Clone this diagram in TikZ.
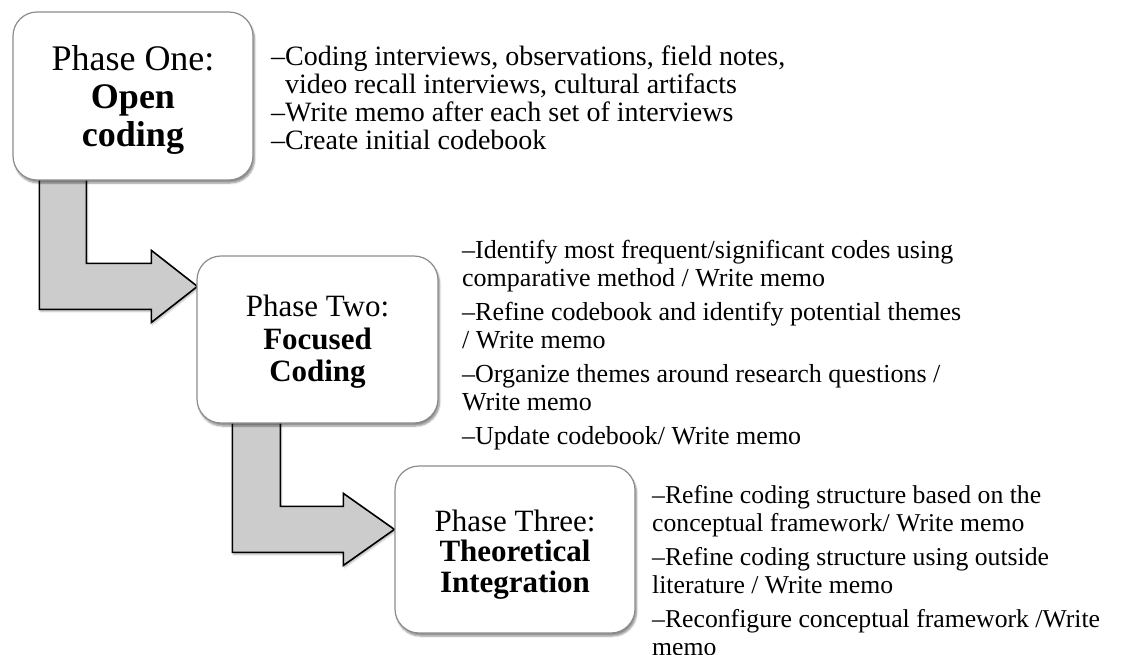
\documentclass[tikz,border=0pt]{standalone}
\usepackage{fontspec}
\setmainfont{Liberation Serif}
\usetikzlibrary{shadows.blur,calc}
\pgfdeclarelayer{background}
\pgfsetlayers{background,main}
\definecolor{boxedge}{HTML}{8C8C8C}
\definecolor{arrowfill}{HTML}{CCCCCC}
\tikzset{
  phasebox/.style={draw=boxedge, line width=1.2pt, fill=white,
    rounded corners=24pt, inner sep=0pt,
    blur shadow={shadow xshift=1.5pt, shadow yshift=-3pt,
      shadow blur steps=6, shadow opacity=45}},
  bentarrow/.style={draw=black, line width=1.6pt, fill=arrowfill,
    line join=miter,
    blur shadow={shadow xshift=1pt, shadow yshift=-2pt,
      shadow blur steps=4, shadow opacity=30}},
  steplist/.style={anchor=north west, align=left, inner sep=0pt},
}
% centred title lines, lowered a little inside the box
\newcommand\phasetitle[2]{\raisebox{-#1}[\height][\depth]{\begin{tabular}{@{}c@{}}#2\end{tabular}}}
\begin{document}
\begin{tikzpicture}[x=1pt,y=1pt]
\useasboundingbox (0,0) rectangle (1144,-654);

% phase boxes
\node[phasebox, minimum width=240pt, minimum height=168pt,
      font=\fontsize{36}{38}\selectfont] (b1) at (133,-96)
  {\phasetitle{5pt}{Phase One:\\\textbf{Open}\\\textbf{coding}}};
\node[phasebox, minimum width=241pt, minimum height=167pt,
      font=\fontsize{31}{32.5}\selectfont] (b2) at (317.5,-339.5)
  {\phasetitle{3pt}{Phase Two:\\\textbf{Focused}\\\textbf{Coding}}};
\node[phasebox, minimum width=240pt, minimum height=167pt,
      font=\fontsize{31}{30}\selectfont] (b3) at (515,-549.5)
  {\phasetitle{6pt}{Phase Three:\\\textbf{Theoretical}\\\textbf{Integration}}};

% bent block arrows from one phase to the next, behind the boxes
\path ($(b1.south west)+(27,10)$) coordinate (s1)
      ($(b2.north west)+(1,-31)$) coordinate (t1)
      ($(b2.south west)+(36,10)$) coordinate (s2)
      ($(b3.north west)+(0,-64)$) coordinate (t2);
\begin{pgfonlayer}{background}
\draw[bentarrow] (s1) -- ++(47,0) |- ($(t1)+(-46,23)$) -- ++(0,13)
  -- (t1) -- ++(-46,-36) -- ++(0,13) -- ($(s1 |- t1)+(0,-23)$) -- cycle;
\draw[bentarrow] (s2) -- ++(48,0) |- ($(t2)+(-51,23)$) -- ++(0,13)
  -- (t2) -- ++(-51,-36) -- ++(0,13) -- ($(s2 |- t2)+(0,-23)$) -- cycle;
\end{pgfonlayer}

% task lists (top edge = first baseline minus ascender height)
\node[steplist, font=\fontsize{28}{28}\selectfont] (l1) at (271,-45.9)
  {–Coding interviews, observations, field notes,\\
   \hphantom{–}video recall interviews, cultural artifacts\\
   –Write memo after each set of interviews\\
   –Create initial codebook};
\node[steplist, font=\fontsize{26}{28}\selectfont] (l2) at (462,-240.2)
  {–Identify most frequent/significant codes using\\
   comparative method / Write memo\\[6pt]
   –Refine codebook and identify potential themes\\
   / Write memo\\[6pt]
   –Organize themes around research questions /\\
   Write memo\\[6pt]
   –Update codebook/ Write memo};
\node[steplist, font=\fontsize{25.7}{28}\selectfont] (l3) at (652,-485.4)
  {–Refine coding structure based on the\\
   conceptual framework/ Write memo\\[6pt]
   –Refine coding structure using outside\\
   literature / Write memo\\[6pt]
   –Reconfigure conceptual framework /Write\\
   memo};
\end{tikzpicture}
\end{document}
